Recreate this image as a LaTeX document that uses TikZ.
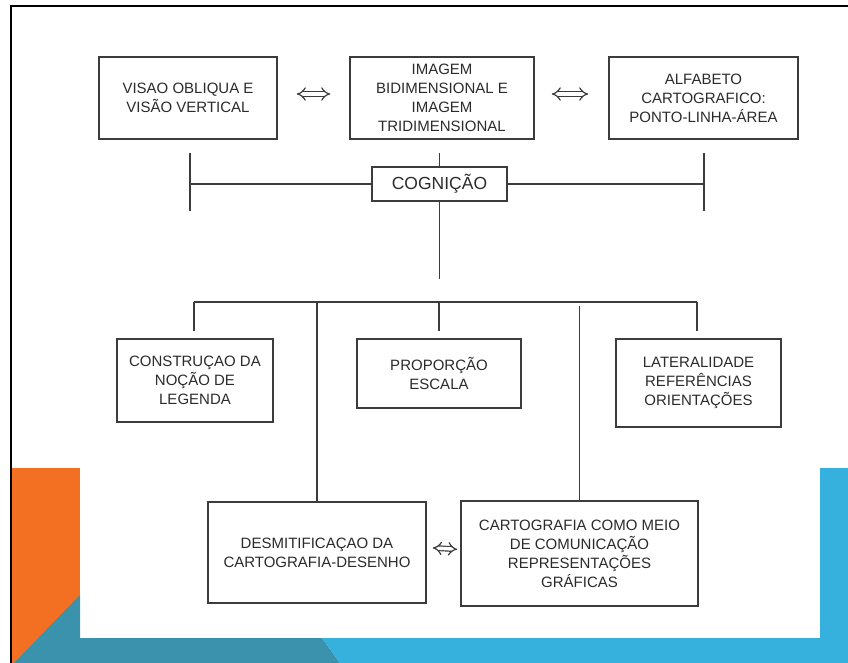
\documentclass[tikz,border=0pt]{standalone}
\usepackage{fontspec}
\setmainfont{Liberation Sans}
\usetikzlibrary{arrows.meta,calc}
\definecolor{inkgray}{HTML}{2B2B2B}
\definecolor{linegray}{HTML}{3C3C3C}
\definecolor{slideorange}{HTML}{F36F21}
\definecolor{slideteal}{HTML}{3A92AD}
\definecolor{slideblue}{HTML}{36B1DE}
\begin{document}
\begin{tikzpicture}[x=1pt,y=-1pt,
  box/.style={draw=linegray, line width=1.5pt, fill=white, align=center,
    inner sep=2pt, text=inkgray, font=\fontsize{15}{19}\selectfont},
  wire/.style={draw=linegray, line width=1.5pt},
  twoway/.style={draw=linegray, line width=1.2pt, double=white,
    double distance=3.4pt, {Implies[scale=1.15]}-{Implies[scale=1.15]}}
]
\useasboundingbox (0,0) rectangle (848,663);
% slide background and frame
\fill[white] (0,0) rectangle (848,663);
\fill[slideorange] (12,468) rectangle (80,663);
\fill[slideteal] (14,663) -- (80,595) -- (80,638) -- (322,638) -- (340,663) -- cycle;
\fill[slideblue] (322,638) -- (820,638) -- (820,468) -- (848,468) -- (848,663) -- (340,663) -- cycle;
\fill[black] (10,5) rectangle (848,7.5);
\fill[black] (10,5) rectangle (12,663);

% top row
\node[box, minimum width=178pt, minimum height=82pt] (visao) at (188,98)
  {VISAO OBLIQUA E\\VISÃO VERTICAL};
\node[box, minimum width=184pt, minimum height=82pt] (imagem) at (442,98)
  {IMAGEM\\BIDIMENSIONAL E\\IMAGEM\\TRIDIMENSIONAL};
\node[box, minimum width=189pt, minimum height=82pt] (alfabeto) at (703.5,98)
  {ALFABETO\\CARTOGRAFICO:\\PONTO-LINHA-ÁREA};
\draw[twoway, shorten <=19pt, shorten >=19pt] ([yshift=4pt]visao.east) -- ([yshift=4pt]imagem.west);
\draw[twoway, shorten <=17pt, shorten >=20pt] ([yshift=4pt]imagem.east) -- ([yshift=4pt]alfabeto.west);

% cognition bar
\node[box, font=\fontsize{17.5}{20}\selectfont, minimum width=135pt, minimum height=34pt] (cog) at (439.5,184) {COGNIÇÃO};
\coordinate (lt) at (190,153);
\coordinate (lb) at (190,211);
\coordinate (rt) at (704,153);
\coordinate (rb) at (704,211);
\coordinate (ctop) at (439.5,153);
\coordinate (cbot) at (439.5,279);
\draw[wire] (lt) -- (lb);
\draw[wire] (rt) -- (rb);
\draw[wire] (lt |- cog.west) -- (cog.west);
\draw[wire] (cog.east) -- (rt |- cog.east);
\draw[wire] (ctop) -- (cog.north);
\draw[wire] (cog.south) -- (cbot);

% middle row
\node[box, minimum width=156pt, minimum height=83pt] (constr) at (195,380.5)
  {CONSTRUÇAO DA\\NOÇÃO DE\\LEGENDA};
\node[box, minimum width=164pt, minimum height=69pt] (prop) at (439,373.5)
  {PROPORÇÃO\\ESCALA};
\node[box, minimum width=165pt, minimum height=88pt] (later) at (698.5,383)
  {LATERALIDADE\\REFERÊNCIAS\\ORIENTAÇÕES};

% bottom row
\node[box, minimum width=218pt, minimum height=101pt] (desm) at (317,552.5)
  {DESMITIFICAÇAO DA\\CARTOGRAFIA-DESENHO};
\node[box, minimum width=237pt, minimum height=105pt] (cart) at (579.5,553.5)
  {CARTOGRAFIA COMO MEIO\\DE COMUNICAÇÃO\\REPRESENTAÇÕES\\GRÁFICAS};
\draw[twoway, shorten <=6pt, shorten >=3pt] ([yshift=5pt]desm.east) -- ([yshift=4pt]cart.west);

% distribution bar
\coordinate (hl) at (194,302);
\coordinate (hr) at (697,302);
\draw[wire] (hl) -- (hr);
\draw[wire] (hl) -- ($(hl |- constr.north)+(0,-7)$);
\draw[wire] (prop.north |- hl) -- ($(prop.north)+(0,-7)$);
\draw[wire] (hr) -- ($(hr |- later.north)+(0,-7)$);
\draw[wire] (desm.north |- hl) -- (desm.north);
\draw[wire] ($(cart.north |- hl)+(0,4)$) -- (cart.north);
\end{tikzpicture}
\end{document}
